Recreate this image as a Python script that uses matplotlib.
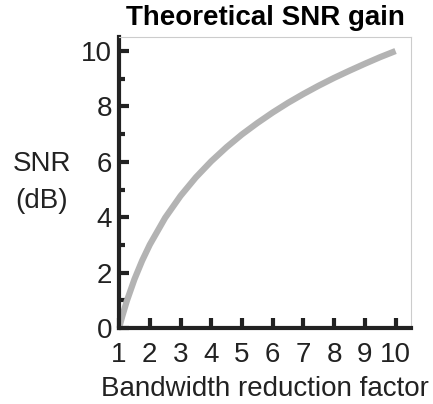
import matplotlib
matplotlib.use("Agg")
import matplotlib.pyplot as plt

plt.rcParams['font.family'] = ['Liberation Sans', 'DejaVu Sans']

# Data
factor = [1.0, 1.1, 1.25, 1.5, 1.75, 2.0, 2.5, 3.0, 3.5, 4.0, 4.5, 5.0, 5.5,
          6.0, 6.5, 7.0, 7.5, 8.0, 8.5, 9.0, 9.5, 10.0]
snr_db = [0.0, 0.41, 0.97, 1.76, 2.43, 3.01, 3.98, 4.77, 5.44, 6.02, 6.53, 6.99,
          7.40, 7.78, 8.13, 8.45, 8.75, 9.03, 9.29, 9.54, 9.78, 10.0]
x_ticks = [1, 2, 3, 4, 5, 6, 7, 8, 9, 10]
y_ticks = [0, 2, 4, 6, 8, 10]
y_minor = [1, 3, 5, 7, 9]

fig = plt.figure(figsize=(4.33, 4.04), dpi=100)
ax = fig.add_axes([0.275, 0.188, 0.674, 0.72])
ax.plot(factor, snr_db, color='#b3b3b3', lw=4.5, solid_capstyle='butt')
ax.set_xlim(1, 10.5)
ax.set_ylim(0, 10.5)
ax.set_xticks(x_ticks)
ax.set_yticks(y_ticks)
ax.set_yticks(y_minor, minor=True)
ax.tick_params(axis='both', which='major', direction='in', length=7, width=3,
               labelsize=20, color='#222222', labelcolor='#222222', pad=5)
ax.tick_params(axis='x', which='major', pad=10)
ax.tick_params(axis='y', which='minor', direction='in', length=4, width=3,
               color='#222222')
for s in ['left', 'bottom']:
    ax.spines[s].set_linewidth(3)
    ax.spines[s].set_color('#222222')
for s in ['top', 'right']:
    ax.spines[s].set_linewidth(0.8)
    ax.spines[s].set_color('#cccccc')
ax.set_xlabel('Bandwidth reduction factor', fontsize=20, labelpad=6,
              color='#222222')
ax.set_ylabel('SNR\n(dB)', fontsize=20, rotation=0, ha='center', va='center',
              labelpad=0, color='#222222', linespacing=1.55)
ax.yaxis.set_label_coords(-0.265, 0.5)
ax.set_title('Theoretical SNR gain', fontsize=20, fontweight='bold', pad=9)
fig.savefig('out.png', dpi=100)
